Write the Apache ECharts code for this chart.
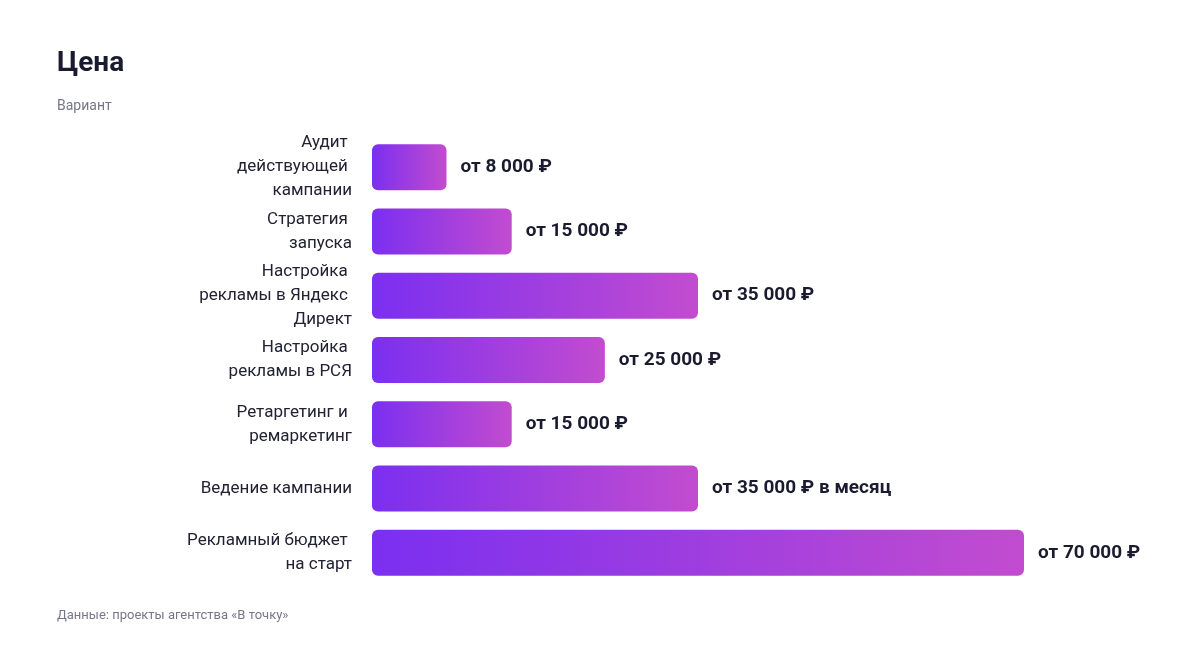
<!DOCTYPE html>
<html>
<head>
<meta charset="utf-8">
<script src="https://cdn.jsdelivr.net/npm/echarts@6/dist/echarts.min.js"></script>
<style>
  html, body { margin: 0; padding: 0; background: #fff; }
  #main { width: 1200px; height: 648px; }
</style>
</head>
<body>
<div id="main"></div>
<script>
const categories = [
  "Аудит действующей кампании",
  "Стратегия запуска",
  "Настройка рекламы в Яндекс Директ",
  "Настройка рекламы в РСЯ",
  "Ретаргетинг и ремаркетинг",
  "Ведение кампании",
  "Рекламный бюджет на старт"
];
const values = [8000, 15000, 35000, 25000, 15000, 35000, 70000];
const suffixes = ["", "", "", "", "", " в месяц", ""];

const fmt = (v) => String(v).replace(/\B(?=(\d{3})+(?!\d))/g, " ");
const font = "Roboto, 'Liberation Sans', Arial, sans-serif";

const chart = echarts.init(document.getElementById("main"));
chart.setOption({
  animation: false,
  title: [
    { text: "Цена", left: 52, top: 45, textStyle: { fontFamily: font, fontSize: 28, fontWeight: "bold", color: "#1b1b2f" } },
    { text: "Вариант", left: 52, top: 94, textStyle: { fontFamily: font, fontSize: 14, fontWeight: "normal", color: "#77778a" } },
    { text: "Данные: проекты агентства «В точку»", left: 52, top: 604, textStyle: { fontFamily: font, fontSize: 13, fontWeight: "normal", color: "#77778a" } }
  ],
  grid: { left: 372, width: 652, top: 135, height: 450, containLabel: false },
  xAxis: { type: "value", min: 0, max: 70000, show: false },
  yAxis: {
    type: "category",
    data: categories,
    inverse: true,
    axisLine: { show: false },
    axisTick: { show: false },
    axisLabel: {
      margin: 20,
      width: 275,
      overflow: "break",
      fontFamily: font,
      fontSize: 17,
      lineHeight: 24,
      color: "#222233",
      align: "right"
    }
  },
  series: [{
    type: "bar",
    data: values.map((v, i) => ({ value: v, suffix: suffixes[i] })),
    barWidth: 46,
    itemStyle: {
      borderRadius: 6,
      color: new echarts.graphic.LinearGradient(0, 0, 1, 0, [
        { offset: 0, color: "#7b2ff0" },
        { offset: 1, color: "#c24ccf" }
      ])
    },
    label: {
      show: true,
      position: "right",
      distance: 14,
      fontFamily: font,
      fontSize: 19,
      fontWeight: "bold",
      color: "#1b1b2f",
      formatter: (p) => "от " + fmt(p.value) + " ₽" + p.data.suffix
    }
  }]
});
</script>
</body>
</html>
